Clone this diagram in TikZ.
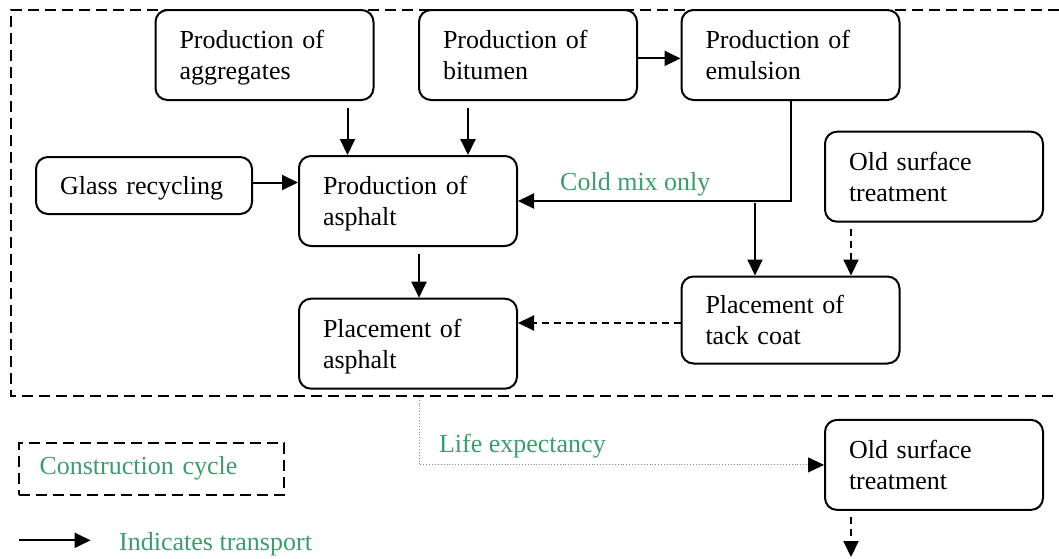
\documentclass[tikz,border=0pt]{standalone}
\usepackage{fontspec}
\setmainfont{Liberation Serif}
\usetikzlibrary{arrows.meta}
\definecolor{lblgreen}{HTML}{3A9E6B}
\begin{document}
\begin{tikzpicture}[x=1pt,y=-1pt,
 every node/.style={font=\fontsize{26}{31}\selectfont},
 box/.style={draw, line width=2pt, rounded corners=12pt, fill=white, text width=170pt, inner xsep=24pt, inner ysep=0pt, minimum height=90pt, align=left, execute at begin node={\rule{0pt}{28pt}}, execute at end node={\strut}},
 arr/.style={line width=2pt, -{Triangle[length=16pt,width=15pt]}},
 darr/.style={arr, dash pattern=on 7pt off 5pt},
 frame/.style={line width=2pt, dash pattern=on 11pt off 6pt},
 lbl/.style={text=lblgreen, inner sep=0pt, anchor=base west},
 lifeline/.style={draw=gray, line width=0.9pt, dotted, -{Triangle[length=16pt,width=15pt,color=black]}},
]
\useasboundingbox (0,0) rectangle (1059,558);
% construction cycle frame (open to the right)
\draw[frame] (1059,10) -- (11,10) -- (11,395.6) -- (1059,395.6);

% boxes
\node[box] (agg) at (264.5,55) {Production of\\aggregates};
\node[box] (bit) at (528,55) {Production of\\bitumen};
\node[box] (emu) at (790.5,55) {Production of\\emulsion};
\node[box, text width=168pt, minimum height=57pt] (glass) at (144,185.5) {Glass recycling};
\node[box] (asph) at (408,201) {Production of\\asphalt};
\node[box] (ost1) at (934,176.7) {Old surface\\treatment};
\node[box, minimum height=87pt] (tack) at (790.5,320) {Placement of\\tack coat};
\node[box] (place) at (408,343.7) {Placement of\\asphalt};
\node[box] (ost2) at (934,464.9) {Old surface\\treatment};

% connectors
\coordinate (a1) at ([xshift=-60.5pt]asph.north);
\coordinate (a2) at ([xshift=60pt]asph.north);
\draw[arr] ([yshift=-7pt]agg.south -| a1) -- (a1);
\draw[arr] ([yshift=-7pt]bit.south -| a2) -- (a2);
\draw[arr] ([yshift=3pt]glass.east) -- ([yshift=3pt]glass.east -| asph.west);
\draw[arr] ([yshift=-3.4pt]bit.east) -- ([yshift=-3.4pt]emu.west);
\draw[arr] (emu.south) -- (emu.south |- asph.east) -- (asph.east);
\node[lbl] (cold) at (560,190.6) {Cold mix only};
\coordinate (t1) at ([xshift=-35.5pt]tack.north);
\coordinate (t2) at ([xshift=60.5pt]tack.north);
\draw[arr] ([yshift=-2pt]t1 |- asph.east) -- (t1);
\draw[darr] ([yshift=-6pt]ost1.south -| t2) -- (t2);
\draw[darr] ([yshift=-3pt]tack.west) -- ([yshift=-3pt]tack.west -| place.east);
\draw[arr] ([xshift=11pt,yshift=-7pt]asph.south) -- ([xshift=11pt]place.north);
\coordinate (l0) at ([xshift=11pt,yshift=-7pt]place.south);
\draw[lifeline] (l0) -- (l0 |- ost2.west) -- (ost2.west);
\node[lbl] (life) at (438.8,452.4) {Life expectancy};
\coordinate (oend) at (851,557);
\draw[darr] ([yshift=-6pt]ost2.south -| oend) -- (oend);

% legend
\node[draw, frame, text width=223pt, inner xsep=21pt, minimum height=52pt, align=left, text=lblgreen] (legcc) at (151,468.5) {Construction cycle};
\coordinate (lg1) at (18.6,540.3);
\coordinate (lg2) at (90.6,540.3);
\draw[arr] (lg1) -- (lg2);
\node[lbl] (legtr) at (119,550.5) {Indicates transport};
\end{tikzpicture}
\end{document}
